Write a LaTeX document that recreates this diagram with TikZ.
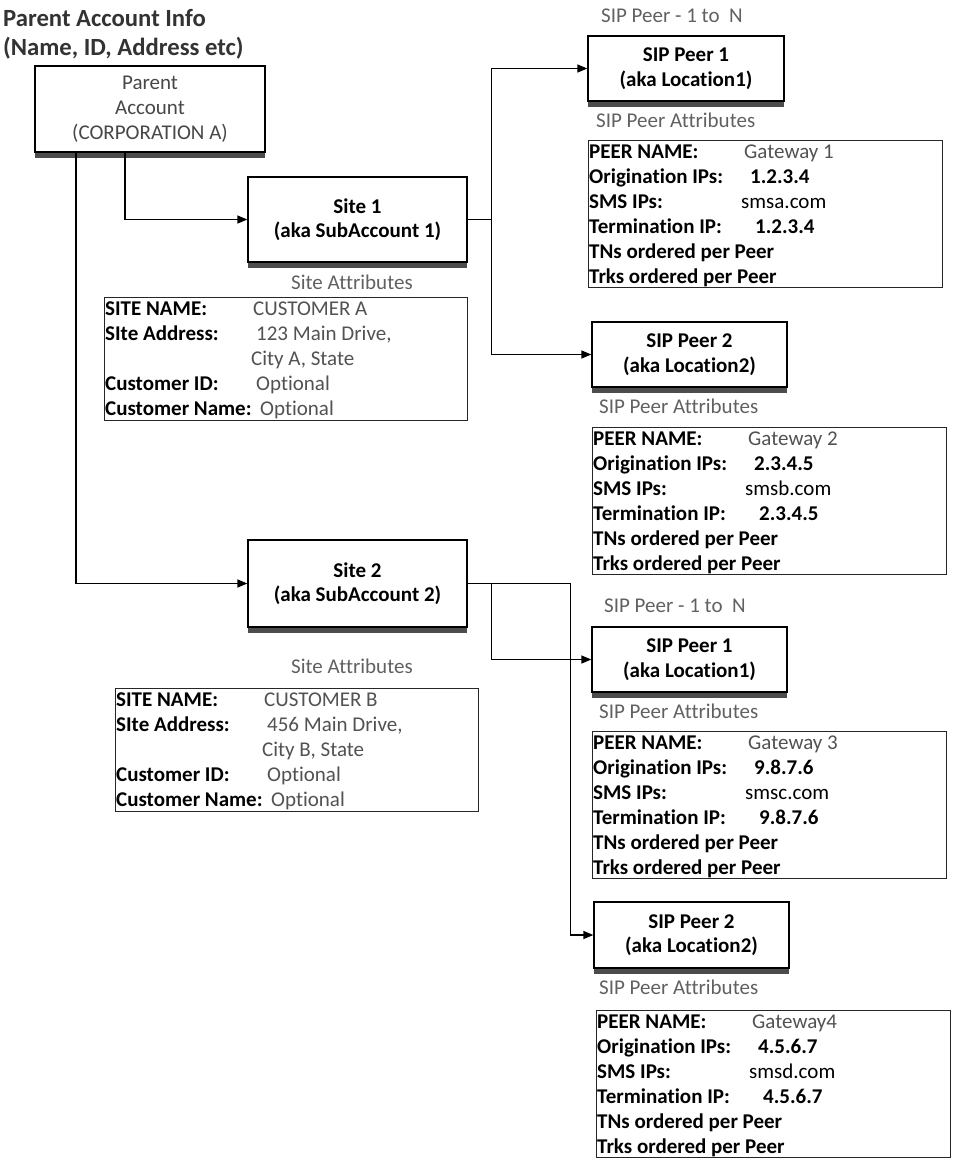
\documentclass[tikz,border=0pt]{standalone}
\usepackage{fontspec}
\setmainfont{Carlito}[Ligatures=NoCommon]
\usetikzlibrary{arrows.meta,shadows}
\newcommand\peerattrs[6]{%
  \node[attrbox, anchor=north west, minimum width=354pt, minimum height=147pt] (#1) at (#2,#3) {};
  \node[lab] (#1-l1) at ([xshift=1pt,yshift=-18pt]#1.north west) {PEER NAME:};
  \node[lab] (#1-l2) at ([xshift=1pt,yshift=-43.1pt]#1.north west) {Origination IPs:};
  \node[lab] (#1-l3) at ([xshift=1pt,yshift=-68.2pt]#1.north west) {SMS IPs:};
  \node[lab] (#1-l4) at ([xshift=1pt,yshift=-93.3pt]#1.north west) {Termination IP:};
  \node[lab] (#1-l5) at ([xshift=1pt,yshift=-118.4pt]#1.north west) {TNs ordered per Peer};
  \node[lab] (#1-l6) at ([xshift=1pt,yshift=-143.5pt]#1.north west) {Trks ordered per Peer};
  \node[val] (#1-v1) at ([xshift=156pt,yshift=-18pt]#1.north west) {#4};
  \node[lab] (#1-v2) at ([xshift=162pt,yshift=-43.1pt]#1.north west) {#5};
  \node[val, text=black] (#1-v3) at ([xshift=153pt,yshift=-68.2pt]#1.north west) {#6};
  \node[lab] (#1-v4) at ([xshift=167pt,yshift=-93.3pt]#1.north west) {#5};
}
\newcommand\siteattrs[6]{%
  \node[attrbox, anchor=north west, minimum width=363pt, minimum height=123pt] (#1) at (#2,#3) {};
  \node[lab] (#1-l1) at ([xshift=1pt,yshift=-18pt]#1.north west) {SITE NAME:};
  \node[lab] (#1-l2) at ([xshift=1pt,yshift=-43pt]#1.north west) {SIte Address:};
  \node[lab] (#1-l4) at ([xshift=1pt,yshift=-93pt]#1.north west) {Customer ID:};
  \node[lab] (#1-l5) at ([xshift=1pt,yshift=-118pt]#1.north west) {Customer Name:};
  \node[val] (#1-v1) at ([xshift=149pt,yshift=-18pt]#1.north west) {#4};
  \node[val] (#1-v2) at ([xshift=152pt,yshift=-43pt]#1.north west) {#5};
  \node[val] (#1-v3) at ([xshift=147pt,yshift=-68pt]#1.north west) {#6};
  \node[val] (#1-v4) at ([xshift=152pt,yshift=-93pt]#1.north west) {Optional};
  \node[val] (#1-v5) at ([xshift=156pt,yshift=-118pt]#1.north west) {Optional};
}
\begin{document}
\begin{tikzpicture}[x=1pt,y=-1pt, font=\fontsize{21}{25}\selectfont,
  box/.style={draw=black, line width=1.3pt, fill=white, align=center, inner sep=0pt,
    font=\fontsize{21}{24.5}\selectfont\bfseries,
    drop shadow={shadow xshift=0pt, shadow yshift=-6pt, fill=black!70, opacity=1}},
  attrbox/.style={draw=black!85, line width=1.3pt, inner sep=0pt},
  lab/.style={anchor=base west, inner sep=0pt, font=\fontsize{21}{25}\selectfont\bfseries},
  val/.style={anchor=base west, inner sep=0pt, text=black!68},
  captxt/.style={anchor=base west, inner sep=0pt, text=black!62},
  conn/.style={line width=1.3pt, -{Triangle[length=10pt,width=8pt]}}]
\useasboundingbox[fill=white] (0,0) rectangle (955,1163);

% title
\node[anchor=base west, inner sep=0pt, font=\fontsize{24.7}{28}\selectfont\bfseries, text=black!80] (t1) at (3,26) {Parent Account Info};
\node[anchor=base west, inner sep=0pt, font=\fontsize{24.7}{28}\selectfont\bfseries, text=black!80] (t2) at (3,55) {(Name, ID, Address etc)};

% main boxes
\node[box, minimum width=230pt, minimum height=86pt, font=\fontsize{21}{25}\selectfont, text=black!72] (parent) at (150,109) {Parent\\Account\\(CORPORATION A)};
\node[box, minimum width=219pt, minimum height=85pt] (site1) at (357.5,219.5) {Site 1\\(aka SubAccount 1)};
\node[box, minimum width=219pt, minimum height=87pt] (site2) at (357.5,583.5) {Site 2\\(aka SubAccount 2)};
\node[box, minimum width=196pt, minimum height=65pt] (p1a) at (686,68.5) {SIP Peer 1\\(aka Location1)};
\node[box, minimum width=195pt, minimum height=65pt] (p2a) at (689.5,354.5) {SIP Peer 2\\(aka Location2)};
\node[box, minimum width=195pt, minimum height=65pt] (p1b) at (689.5,659.5) {SIP Peer 1\\(aka Location1)};
\node[box, minimum width=195pt, minimum height=66pt] (p2b) at (691.5,935) {SIP Peer 2\\(aka Location2)};

% captions
\node[captxt] (c1) at (601,22) {SIP Peer - 1 to~ N};
\node[captxt] (c2) at (604,612) {SIP Peer - 1 to~ N};
\node[captxt] (c3) at (596,127) {SIP Peer Attributes};
\node[captxt] (c4) at (599,413) {SIP Peer Attributes};
\node[captxt] (c5) at (599,718) {SIP Peer Attributes};
\node[captxt] (c6) at (599,994) {SIP Peer Attributes};
\node[captxt] (c7) at (291,289) {Site Attributes};
\node[captxt] (c8) at (291,673) {Site Attributes};

% attribute boxes
\siteattrs{sa1}{104}{297}{CUSTOMER A}{123 Main Drive,}{City A, State}
\siteattrs{sa2}{115}{688}{CUSTOMER B}{456 Main Drive,}{City B, State}
\peerattrs{pa1}{588}{140}{Gateway 1}{1.2.3.4}{smsa.com}
\peerattrs{pa2}{592}{427}{Gateway 2}{2.3.4.5}{smsb.com}
\peerattrs{pa3}{592}{731}{Gateway 3}{9.8.7.6}{smsc.com}
\peerattrs{pa4}{596}{1010}{Gateway4}{4.5.6.7}{smsd.com}

% connectors
\draw[conn] ([xshift=-25pt]parent.south) |- (site1.west);
\draw[conn] ([xshift=-74pt]parent.south) |- (site2.west);
\draw[conn] (site1.east) -- ++(24,0) |- (p1a.west);
\draw[conn] (site1.east) -- ++(24,0) |- (p2a.west);
\draw[conn] (site2.east) -- ++(24,0) |- (p1b.west);
\draw[conn] (site2.east) -- ++(103,0) |- (p2b.west);
\end{tikzpicture}
\end{document}
